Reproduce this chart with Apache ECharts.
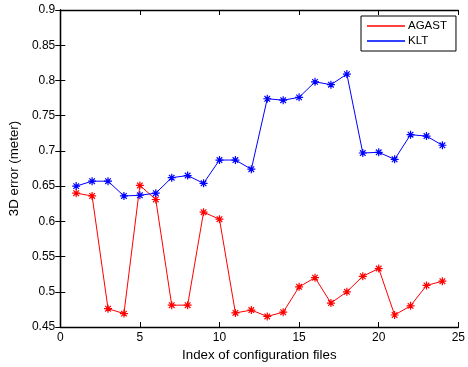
<!DOCTYPE html>
<html>
<head>
<meta charset="utf-8">
<script src="https://cdn.jsdelivr.net/npm/echarts@6/dist/echarts.min.js"></script>
<style>
  html, body { margin: 0; padding: 0; background: #fff; }
  #chart { width: 468px; height: 367px; }
</style>
</head>
<body>
<div id="chart"></div>
<script>
// configuration file index 1..24
const fileIndex = [1, 2, 3, 4, 5, 6, 7, 8, 9, 10, 11, 12, 13, 14, 15, 16, 17, 18, 19, 20, 21, 22, 23, 24];
const agastError = [0.640, 0.636, 0.476, 0.469, 0.651, 0.631, 0.481, 0.481, 0.613, 0.603, 0.470, 0.474,
    0.465, 0.471, 0.507, 0.520, 0.484, 0.500, 0.522, 0.533, 0.467, 0.480, 0.509, 0.515];
const kltError = [0.650, 0.657, 0.657, 0.636, 0.637, 0.640, 0.662, 0.665, 0.654, 0.687, 0.687, 0.674,
    0.774, 0.772, 0.776, 0.798, 0.794, 0.809, 0.697, 0.698, 0.688, 0.723, 0.721, 0.708];

const font = 'Liberation Sans, Arial, sans-serif';
// asterisk marker, plus + cross
const star = 'path://M0,-5L0,5M-5,0L5,0M-3.5,-3.5L3.5,3.5M-3.5,3.5L3.5,-3.5';

const chart = echarts.init(document.getElementById('chart'));

function mkSeries(name, values, color) {
    return {
        name: name,
        type: 'line',
        data: fileIndex.map((x, i) => [x, values[i]]),
        symbol: star,
        symbolSize: 8,
        showSymbol: true,
        lineStyle: { color: color, width: 1 },
        itemStyle: { color: 'none', borderColor: color, borderWidth: 1.2 },
        emphasis: { disabled: true },
        animation: false
    };
}

const tickInside = { inside: true, length: 5, lineStyle: { color: '#000' } };
const axisLineBlack = { show: true, lineStyle: { color: '#000', width: 1.3 } };

const option = {
    backgroundColor: '#fff',
    animation: false,
    grid: { left: 58, right: 9, top: 10, bottom: 40 },
    legend: {
        orient: 'vertical',
        left: 361,
        top: 16,
        borderColor: '#000',
        borderWidth: 1,
        padding: [4, 9, 4, 6],
        itemGap: 3,
        itemWidth: 38,
        itemHeight: 2,
        icon: 'rect',
        textStyle: { fontFamily: font, fontSize: 11.5, color: '#000', padding: [0, 0, 0, -2] },
        data: [
            { name: 'AGAST', itemStyle: { color: '#ff4040', borderWidth: 0 } },
            { name: 'KLT', itemStyle: { color: '#3040ff', borderWidth: 0 } }
        ]
    },
    xAxis: [{
        type: 'value',
        min: 0, max: 25, interval: 5,
        name: 'Index of configuration files',
        nameLocation: 'middle',
        nameGap: 22,
        nameTextStyle: { fontFamily: font, fontSize: 13.3, color: '#000' },
        axisLine: axisLineBlack,
        axisTick: tickInside,
        axisLabel: { fontFamily: font, fontSize: 12, color: '#000', margin: 5 },
        splitLine: { show: false }
    }, {
        type: 'value', position: 'top',
        min: 0, max: 25, interval: 5,
        axisLine: axisLineBlack,
        axisTick: tickInside,
        axisLabel: { show: false },
        splitLine: { show: false }
    }],
    yAxis: [{
        type: 'value',
        min: 0.45, max: 0.9, interval: 0.05,
        name: '3D error (meter)',
        nameLocation: 'middle',
        nameGap: 38,
        nameTextStyle: { fontFamily: font, fontSize: 13.3, color: '#000' },
        axisLine: axisLineBlack,
        axisTick: tickInside,
        axisLabel: { fontFamily: font, fontSize: 12, color: '#000', margin: 5,
            formatter: v => String(+v.toFixed(2)) },
        splitLine: { show: false }
    }, {
        type: 'value', position: 'right',
        min: 0.45, max: 0.9, interval: 0.05,
        axisLine: axisLineBlack,
        axisTick: tickInside,
        axisLabel: { show: false },
        splitLine: { show: false }
    }],
    series: [
        mkSeries('AGAST', agastError, '#ff0000'),
        mkSeries('KLT', kltError, '#0000ff')
    ]
};

chart.setOption(option);
</script>
</body>
</html>
